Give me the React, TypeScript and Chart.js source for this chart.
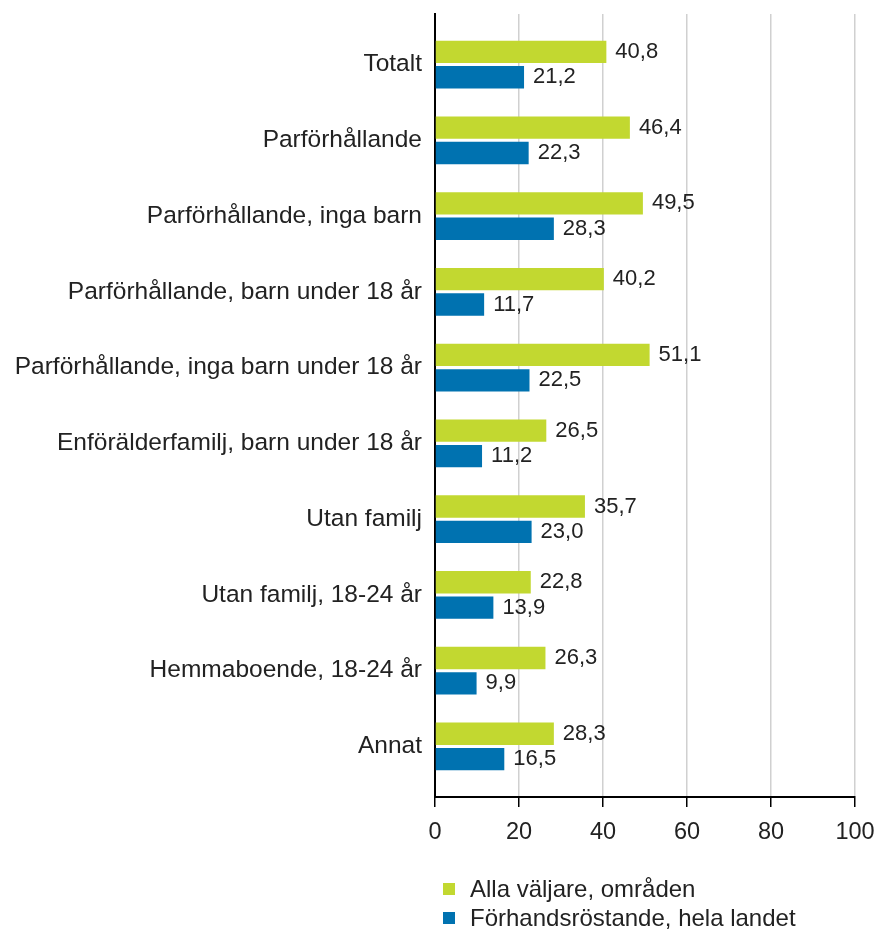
import React, { useEffect, useRef } from 'react';
import { Chart, registerables } from 'chart.js';

Chart.register(...registerables);

const categories = [
  'Totalt',
  'Parförhållande',
  'Parförhållande, inga barn',
  'Parförhållande, barn under 18 år',
  'Parförhållande, inga barn under 18 år',
  'Enförälderfamilj, barn under 18 år',
  'Utan familj',
  'Utan familj, 18-24 år',
  'Hemmaboende, 18-24 år',
  'Annat',
];
const allVoters = [40.8, 46.4, 49.5, 40.2, 51.1, 26.5, 35.7, 22.8, 26.3, 28.3];
const advanceVoters = [21.2, 22.3, 28.3, 11.7, 22.5, 11.2, 23.0, 13.9, 9.9, 16.5];
const seriesNames = ['Alla väljare, områden', 'Förhandsröstande, hela landet'];
const xTicks = [0, 20, 40, 60, 80, 100];

const GREEN = '#c2d830';
const BLUE = '#0072b0';
const FONT = '"Liberation Sans", Arial, sans-serif';
const TEXT = '#222';

const fmt = (v: number) => v.toFixed(1).replace('.', ',');

const valueLabels = {
  id: 'valueLabels',
  afterDatasetsDraw(chart: any) {
    const ctx = chart.ctx;
    ctx.save();
    ctx.font = `22px ${FONT}`;
    ctx.fillStyle = TEXT;
    ctx.textBaseline = 'middle';
    ctx.textAlign = 'left';
    chart.data.datasets.forEach((ds: any, di: number) => {
      const meta = chart.getDatasetMeta(di);
      meta.data.forEach((el: any, i: number) => {
        const v = ds.data[i].x;
        ctx.fillText(fmt(v), el.x + 9, el.y);
      });
    });
    ctx.restore();
  },
};

export default function App() {
  const ref = useRef<HTMLCanvasElement | null>(null);

  useEffect(() => {
    document.body.style.margin = '0';
    if (!ref.current) return;
    const chart = new Chart(ref.current, {
      type: 'bar',
      data: {
        datasets: [
          {
            label: seriesNames[0],
            data: allVoters.map((v, i) => ({ x: v, y: i })),
            backgroundColor: GREEN,
            categoryPercentage: 0.67,
            barPercentage: 0.88,
          },
          {
            label: seriesNames[1],
            data: advanceVoters.map((v, i) => ({ x: v, y: i })),
            backgroundColor: BLUE,
            categoryPercentage: 0.67,
            barPercentage: 0.88,
          },
        ],
      },
      options: {
        indexAxis: 'y',
        responsive: false,
        animation: false,
        layout: { padding: { top: 14, right: 24, bottom: 85, left: 0 } },
        plugins: {
          legend: { display: false },
          tooltip: { enabled: false },
        },
        scales: {
          x: {
            type: 'linear',
            position: 'bottom',
            min: 0,
            max: 100,
            offset: false,
            afterBuildTicks: (s: any) => {
              s.ticks = xTicks.map((v) => ({ value: v }));
            },
            ticks: {
              color: TEXT,
              font: { family: FONT, size: 23.5 },
              padding: 11,
              maxRotation: 0,
            },
            grid: {
              color: '#d0d0d0',
              lineWidth: 1.5,
              tickColor: '#000',
              tickLength: 10,
              tickWidth: 1.5,
              drawTicks: true,
              offset: false,
            },
            border: { display: true, color: '#000', width: 2 },
            afterFit: (s: any) => {
              s.height = 50;
              s.paddingLeft = 0;
              s.paddingRight = 0;
            },
          },
          y: {
            type: 'linear',
            position: 'left',
            reverse: true,
            min: -0.667,
            max: 9.667,
            offset: false,
            z: 1,
            afterBuildTicks: (s: any) => {
              s.ticks = categories.map((_, i) => ({ value: i }));
            },
            ticks: {
              callback: (v: any) => categories[v] ?? '',
              color: TEXT,
              font: { family: FONT, size: 24.5 },
              padding: 13,
              autoSkip: false,
            },
            grid: { display: false, drawTicks: false, offset: false },
            border: { display: true, color: '#000', width: 2 },
            afterFit: (s: any) => {
              s.width = 435;
              s.paddingTop = 0;
              s.paddingBottom = 0;
            },
          },
        },
      },
      plugins: [valueLabels],
    } as any);
    return () => chart.destroy();
  }, []);

  const legendItems = [
    { name: seriesNames[0], color: GREEN, cy: 889 },
    { name: seriesNames[1], color: BLUE, cy: 918 },
  ];

  return (
    <div style={{ position: 'relative', width: 879, height: 932 }}>
      <canvas ref={ref} width={879} height={932} style={{ width: 879, height: 932, display: 'block' }} />
      {legendItems.map((it) => (
        <div
          key={it.name}
          style={{
            position: 'absolute',
            left: 443,
            top: it.cy - 15,
            height: 30,
            display: 'flex',
            alignItems: 'center',
            fontFamily: FONT,
            fontSize: 24,
            color: TEXT,
            whiteSpace: 'nowrap',
          }}
        >
          <span style={{ display: 'inline-block', width: 12, height: 12, background: it.color, marginRight: 15 }} />
          <span>{it.name}</span>
        </div>
      ))}
    </div>
  );
}
